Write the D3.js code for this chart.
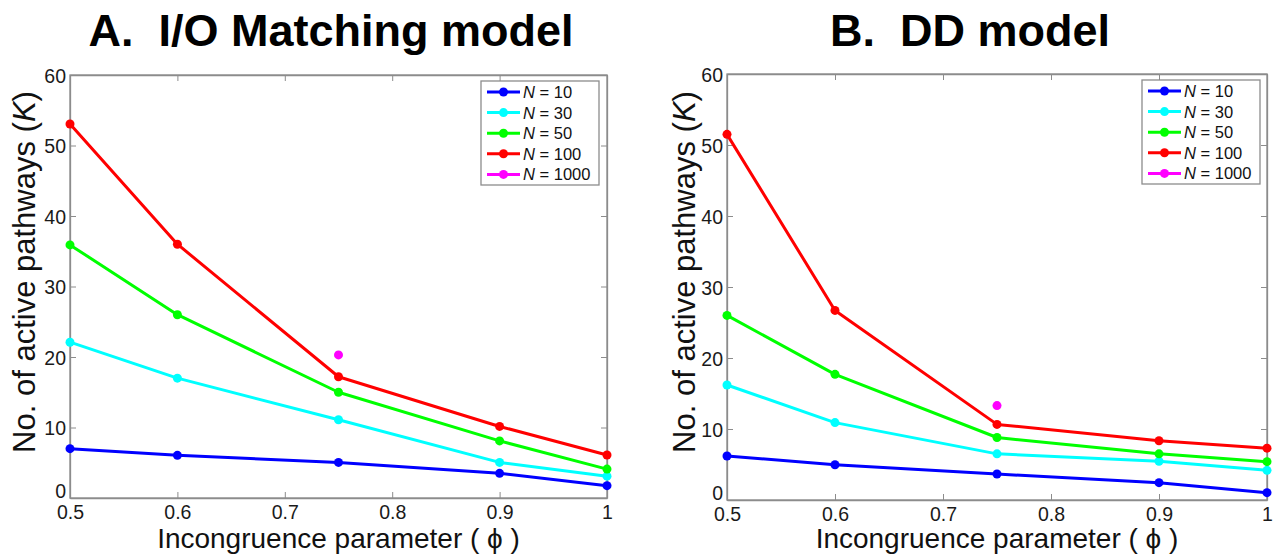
<!DOCTYPE html>
<html>
<head>
<meta charset="utf-8">
<script src="https://cdn.jsdelivr.net/npm/d3@7"></script>
<style>
  body { margin: 0; background: #fff; }
  svg { font-family: "Liberation Sans", Arial, sans-serif; }
  .title { white-space: pre; }
</style>
</head>
<body>
<script>
// data -------------------------------------------------------------
var phi = [0.5, 0.6, 0.75, 0.9, 1.0];
var seriesNames = ["10", "30", "50", "100", "1000"];
var seriesColors = ["#0000ff", "#00ffff", "#00ff00", "#ff0000", "#ff00ff"];

// panel A: I/O Matching model
var ioN10 = [7.0, 6.05, 5.05, 3.5, 1.75];
var ioN30 = [22.1, 17.0, 11.1, 5.05, 3.1];
var ioN50 = [35.9, 26.0, 15.0, 8.1, 4.1];
var ioN100 = [53.05, 36.0, 17.2, 10.15, 6.1];
var ioN1000 = [null, null, 20.3, null, null];

// panel B: DD model
var ddN10 = [6.2, 4.97, 3.66, 2.44, 1.03];
var ddN30 = [16.2, 10.9, 6.5, 5.45, 4.18];
var ddN50 = [26.0, 17.7, 8.8, 6.5, 5.4];
var ddN100 = [51.5, 26.7, 10.65, 8.35, 7.3];
var ddN1000 = [null, null, 13.3, null, null];

var xTicks = [0.5, 0.6, 0.7, 0.8, 0.9, 1];
var yTicks = [0, 10, 20, 30, 40, 50, 60];

var width = 1278, height = 557;
var svg = d3.select("body").append("svg")
  .attr("width", width)
  .attr("height", height);

//Panel-----------------------------------------------------------------
function drawPanel(opts) {
  var x = d3.scaleLinear().domain([0.5, 1]).range([opts.left, opts.right]);
  var y = d3.scaleLinear().domain([0, 60]).range([opts.bottom, opts.top]);
  var g = svg.append("g");
  var axisColor = "#8c8c8c";

  // box
  g.append("rect")
    .attr("x", opts.left).attr("y", opts.top)
    .attr("width", opts.right - opts.left)
    .attr("height", opts.bottom - opts.top)
    .attr("fill", "none").attr("stroke", axisColor).attr("stroke-width", 1.3);

  var xAxis = g.append("g")
    .attr("transform", "translate(0," + opts.bottom + ")")
    .call(d3.axisBottom(x).tickValues(xTicks).tickSizeInner(-6).tickSizeOuter(0)
      .tickPadding(8.5).tickFormat(function(d) { return d === 1 ? "1" : d3.format(".1f")(d); }));
  var xAxisTop = g.append("g")
    .attr("transform", "translate(0," + opts.top + ")")
    .call(d3.axisTop(x).tickValues(xTicks).tickSizeInner(-6).tickSizeOuter(0).tickFormat(""));
  var yAxis = g.append("g")
    .attr("transform", "translate(" + opts.left + ",0)")
    .call(d3.axisLeft(y).tickValues(yTicks).tickSizeInner(-6).tickSizeOuter(0).tickPadding(4));
  var yAxisRight = g.append("g")
    .attr("transform", "translate(" + opts.right + ",0)")
    .call(d3.axisRight(y).tickValues(yTicks).tickSizeInner(-6).tickSizeOuter(0).tickFormat(""));

  [xAxis, xAxisTop, yAxis, yAxisRight].forEach(function(a) {
    a.select(".domain").attr("stroke", axisColor).attr("stroke-width", 1.3);
    a.selectAll(".tick line").attr("stroke", axisColor).attr("stroke-width", 1);
    a.selectAll(".tick text").attr("fill", "#1a1a1a").style("font-size", "19.5px");
  });
  xAxis.selectAll(".tick text").attr("dy", "0.62em");
  yAxis.selectAll(".tick text").attr("dy", "0.36em");
  // the "0" sits a little higher so it clears the "0.5" below it
  yAxis.selectAll(".tick text").filter(function(d) { return d === 0; }).attr("dy", "-0.05em");

  // lines + markers
  var line = d3.line()
    .defined(function(d) { return d != null; })
    .x(function(d, i) { return x(phi[i]); })
    .y(function(d) { return y(d); });

  opts.series.forEach(function(vals, k) {
    g.append("path")
      .datum(vals)
      .attr("d", line)
      .attr("fill", "none")
      .attr("stroke", seriesColors[k])
      .attr("stroke-width", 3)
      .attr("stroke-linejoin", "round");
    g.selectAll(".dot" + k)
      .data(vals.map(function(v, i) { return {v: v, x: phi[i]}; }).filter(function(d) { return d.v != null; }))
      .enter().append("circle")
      .attr("cx", function(d) { return x(d.x); })
      .attr("cy", function(d) { return y(d.v); })
      .attr("r", 4.5)
      .attr("fill", seriesColors[k]);
  });

  // legend
  var lg = g.append("g").attr("transform", "translate(" + opts.legendX + "," + (opts.top + 6) + ")");
  lg.append("rect")
    .attr("x", 0).attr("y", 0)
    .attr("width", 118).attr("height", 104)
    .attr("fill", "#fff").attr("stroke", axisColor).attr("stroke-width", 1.3);
  seriesNames.forEach(function(name, k) {
    var cy = 11 + k * 20.6;
    lg.append("line")
      .attr("x1", 6).attr("x2", 39).attr("y1", cy).attr("y2", cy)
      .attr("stroke", seriesColors[k]).attr("stroke-width", 3);
    lg.append("circle").attr("cx", 22.5).attr("cy", cy).attr("r", 4.5).attr("fill", seriesColors[k]);
    var t = lg.append("text").attr("x", 42).attr("y", cy).attr("dy", "0.36em")
      .style("font-size", "16.5px").attr("fill", "#111");
    t.append("tspan").style("font-style", "italic").text("N");
    t.append("tspan").text(" = " + name);
  });

  // titles
  svg.append("text")
    .attr("class", "title")
    .attr("x", opts.titleX).attr("y", 46)
    .attr("text-anchor", "middle")
    .style("font-size", "45px").style("font-weight", "bold")
    .attr("fill", "#000")
    .text(opts.title);

  svg.append("text")
    .attr("x", (opts.left + opts.right) / 2).attr("y", 548)
    .attr("text-anchor", "middle")
    .style("font-size", "28px").attr("fill", "#111")
    .text("Incongruence parameter ( \u03D5 )");

  var yl = svg.append("text")
    .attr("transform", "translate(" + opts.ylabelX + ",272) rotate(-90)")
    .attr("text-anchor", "middle")
    .style("font-size", "31px").attr("fill", "#111");
  yl.append("tspan").text("No. of active pathways (");
  yl.append("tspan").style("font-style", "italic").text("K");
  yl.append("tspan").text(")");
}

drawPanel({
  left: 70, right: 607, top: 75, bottom: 498,
  series: [ioN10, ioN30, ioN50, ioN100, ioN1000],
  legendX: 481, title: "A.  I/O Matching model", titleX: 331, ylabelX: 35
});

drawPanel({
  left: 727, right: 1267, top: 74, bottom: 500,
  series: [ddN10, ddN30, ddN50, ddN100, ddN1000],
  legendX: 1142, title: "B.  DD model", titleX: 970, ylabelX: 695
});
</script>
</body>
</html>
